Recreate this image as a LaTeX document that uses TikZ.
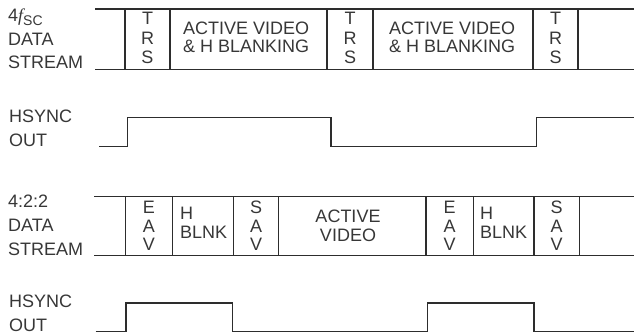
\documentclass[tikz,border=0pt]{standalone}
\usepackage{fontspec}
\setmainfont{Liberation Sans}
\newfontfamily\serifit{Liberation Serif}[ItalicFont={Liberation Serif Italic}]
\definecolor{ink}{RGB}{45,45,45}
\definecolor{tink}{RGB}{55,55,55}
\begin{document}
\begin{tikzpicture}[x=1pt,y=-1pt,
  txt/.style={inner sep=0pt,text=tink,font=\fontsize{18}{20}\selectfont},
  lbl/.style={txt,anchor=base west},
  ctr/.style={txt,anchor=base},
  wire/.style={draw=ink,line width=1.3pt},
  sig/.style={draw=ink,line width=1.4pt}]
\useasboundingbox (0,0) rectangle (634,334);

% ---------- 4fSC data stream ----------
\node[lbl] (l1a) at (8,21.5) {4{\serifit\itshape f}\raisebox{-4pt}{\fontsize{14}{14}\selectfont SC}};
\node[lbl] (l1b) at (8,45.5) {DATA};
\node[lbl] (l1c) at (8,69) {STREAM};

\coordinate (t1) at (95,9); \coordinate (t2) at (634,9);
\coordinate (b1) at (95,69.3); \coordinate (b2) at (634,69.3);
\draw[wire] (t1) -- (t2);
\draw[wire] (b1) -- (b2);
\foreach \x in {125,170,327,373,533,578}
  \draw[wire] (\x,9) -- (\x,69.3);

\foreach \x/\n in {147.5/a,350/b,555.5/c}{
  \node[ctr] (trsT\n) at (\x,25) {T};
  \node[ctr] (trsR\n) at (\x,44.5) {R};
  \node[ctr] (trsS\n) at (\x,64) {S};
}
\node[lbl] (av1a) at (183,34.3) {ACTIVE VIDEO};
\node[lbl] (av1b) at (183,52.3) {\& H BLANKING};
\node[lbl] (av2a) at (389,34.3) {ACTIVE VIDEO};
\node[lbl] (av2b) at (389,52.3) {\& H BLANKING};

% ---------- HSYNC 1 ----------
\node[lbl] (h1a) at (9,122.3) {HSYNC};
\node[lbl] (h1b) at (9,146.7) {OUT};
\draw[sig] (99,146.7) -- (127.7,146.7) -- (127.7,117.3) -- (331,117.3)
  -- (331,146.7) -- (536.5,146.7) -- (536.5,117.3) -- (634,117.3);

% ---------- 4:2:2 data stream ----------
\node[lbl] (l2a) at (8,207.7) {4:2:2};
\node[lbl] (l2b) at (8,231.2) {DATA};
\node[lbl] (l2c) at (8,255.5) {STREAM};

\draw[wire] (94.3,196.7) -- (634,196.7);
\draw[wire] (94.3,255.7) -- (634,255.7);
\foreach \x in {125.3,172.7,233.3,278.8,426,473.3,534,579.3}
  \draw[wire] (\x,196.7) -- (\x,255.7);

\foreach \x/\n in {149/a,449.7/b}{
  \node[ctr] (eavE\n) at (\x,213.5) {E};
  \node[ctr] (eavA\n) at (\x,232) {A};
  \node[ctr] (eavV\n) at (\x,250.5) {V};
}
\foreach \x/\n in {256/a,556.7/b}{
  \node[ctr] (savS\n) at (\x,213.5) {S};
  \node[ctr] (savA\n) at (\x,232) {A};
  \node[ctr] (savV\n) at (\x,250.5) {V};
}
\foreach \x/\n in {180/a,480/b}{
  \node[lbl] (hbH\n) at (\x,219) {H};
  \node[lbl] (hbB\n) at (\x,238.5) {BLNK};
}
\node[ctr] (av3a) at (348,222) {ACTIVE};
\node[ctr] (av3b) at (348,241.5) {VIDEO};

% ---------- HSYNC 2 ----------
\node[lbl] (h2a) at (9,307.5) {HSYNC};
\node[lbl] (h2b) at (9,331) {OUT};
\draw[sig] (95.7,331.7) -- (126,331.7) -- (126,303) -- (232.7,303)
  -- (232.7,331.7) -- (427.3,331.7) -- (427.3,303) -- (534,303)
  -- (534,331.7) -- (634,331.7);
\end{tikzpicture}
\end{document}
